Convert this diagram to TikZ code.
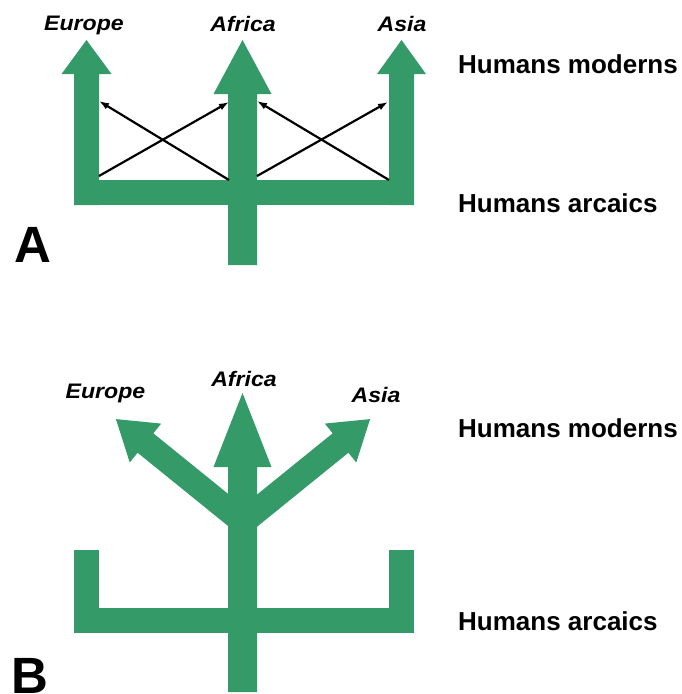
\documentclass[tikz,border=0pt]{standalone}
\usepackage{graphicx}
\usepackage{fontspec}
\setmainfont{Liberation Sans}
\usetikzlibrary{arrows.meta}
\definecolor{treegreen}{RGB}{52,154,104}
\newcommand{\wide}[1]{\scalebox{1.1}[1]{#1}}
\tikzset{
  trunk/.style={fill=treegreen, draw=none},
  region/.style={font=\fontsize{21}{25}\selectfont\bfseries\itshape, anchor=base, inner sep=0pt},
  stage/.style={font=\fontsize{26}{30}\selectfont\bfseries, anchor=base west, inner sep=0pt},
  panel/.style={font=\fontsize{51}{60}\selectfont\bfseries, anchor=base west, inner sep=0pt},
  flow/.style={line width=2.2pt, -{Latex[length=10pt,width=7pt]}}
}
\begin{document}
\begin{tikzpicture}[x=1pt, y=-1pt]
  \useasboundingbox (0,0) rectangle (681,694);
  % A: gene flow between regions
  \fill[trunk] (74,180) rectangle (414,205);
  \fill[trunk] (74,205) -- (74,74) -- (61.5,74) -- (86.5,40) -- (111.5,74) -- (99,74) -- (99,205) -- cycle;
  \fill[trunk] (389,205) -- (389,74) -- (377,74) -- (401.5,40) -- (426,74) -- (414,74) -- (414,205) -- cycle;
  \fill[trunk] (228,265) -- (228,94) -- (213.5,94) -- (242.5,40) -- (271.5,94) -- (257,94) -- (257,265) -- cycle;
  \coordinate (eu-foot) at (99,176);
  \coordinate (eu-top) at (99,101);
  \coordinate (af-lfoot) at (229,180);
  \coordinate (af-ltop) at (229,102);
  \coordinate (af-rfoot) at (257,176);
  \coordinate (af-rtop) at (257,101);
  \coordinate (as-foot) at (389,180);
  \coordinate (as-top) at (388,102);
  \draw[flow] (eu-foot) -- (af-ltop);
  \draw[flow] (af-lfoot) -- (eu-top);
  \draw[flow] (af-rfoot) -- (as-top);
  \draw[flow] (as-foot) -- (af-rtop);
  \node[region] (eu-a) at (84,30) {\wide{Europe}};
  \node[region] (af-a) at (243,31) {\wide{Africa}};
  \node[region] (as-a) at (402,31) {\wide{Asia}};
  \node[stage] (mod-a) at (458,73) {Humans moderns};
  \node[stage] (arc-a) at (458,212) {Humans arcaics};
  \node[panel] (lab-a) at (14,262) {A};
  % B: out of Africa
  \fill[trunk] (74,608) rectangle (414,633);
  \fill[trunk] (74,550) rectangle (99,608);
  \fill[trunk] (389,550) rectangle (414,608);
  \foreach \ang in {141,39}
    \fill[trunk, shift={(243,522)}, rotate=\ang] (0,-12.5) -- (125.5,-12.5) -- (125.5,-25) -- (163.5,0) -- (125.5,25) -- (125.5,12.5) -- (0,12.5) -- cycle;
  \fill[trunk] (228,692) -- (228,467) -- (213.5,467) -- (242.5,393) -- (271.5,467) -- (257,467) -- (257,692) -- cycle;
  \node[region] (eu-b) at (105.5,398) {\wide{Europe}};
  \node[region] (af-b) at (244,386) {\wide{Africa}};
  \node[region] (as-b) at (376,402) {\wide{Asia}};
  \node[stage] (mod-b) at (458,437) {Humans moderns};
  \node[stage] (arc-b) at (458,630) {Humans arcaics};
  \node[panel] (lab-b) at (11,693) {B};
\end{tikzpicture}
\end{document}
